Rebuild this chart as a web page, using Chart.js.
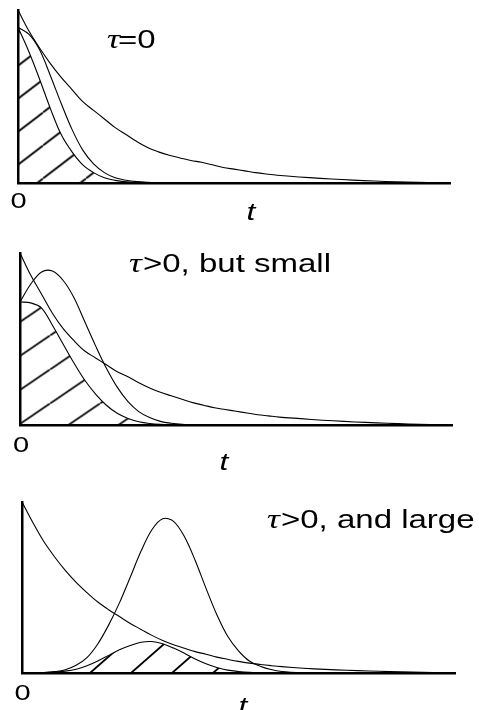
<!DOCTYPE html>
<html>
<head>
<meta charset="utf-8">
<script src="https://cdn.jsdelivr.net/npm/chart.js@4.4.1/dist/chart.umd.min.js"></script>
<style>
    html, body { margin: 0; padding: 0; background: #fff; }
    body { width: 479px; height: 710px; position: relative; overflow: hidden; }
    .panel { position: absolute; left: 0; width: 479px; }
</style>
</head>
<body>
<div class="panel" style="top:0;height:235px"><canvas id="chartZero"></canvas></div>
<div class="panel" style="top:235px;height:240px"><canvas id="chartSmall"></canvas></div>
<div class="panel" style="top:475px;height:235px"><canvas id="chartLarge"></canvas></div>
<script>
// time axis, shared by all three panels
const tValues = [0, 0.25, 0.5, 0.75, 1, 1.25, 1.5, 1.75, 2, 2.25, 2.5, 2.75, 3, 3.25, 3.5, 3.75, 4,
    4.25, 4.5, 4.75, 5, 5.25, 5.5, 5.75, 6, 6.5, 7, 7.5, 8, 8.5, 9, 9.5, 10];

// tau = 0
const decayZero = [1.00, 0.88, 0.78, 0.69, 0.61, 0.54, 0.47, 0.42, 0.37, 0.32, 0.28, 0.24, 0.205, 0.18, 0.16, 0.145, 0.13,
    0.12, 0.105, 0.09, 0.08, 0.07, 0.06, 0.052, 0.045, 0.035, 0.027, 0.02, 0.014, 0.009, 0.006, 0.003, 0.001];
const gaussZero = [0.90, 0.86, 0.77, 0.62, 0.46, 0.31, 0.19, 0.11, 0.06, 0.03, 0.016, 0.008, 0.004, 0.002, 0.001, 0, 0,
    0, 0, 0, 0, 0, 0, 0, 0, 0, 0, 0, 0, 0, 0, 0, 0];
const overlapZero = [0.90, 0.76, 0.60, 0.43, 0.28, 0.18, 0.105, 0.06, 0.03, 0.015, 0.007, 0.003, 0.001, 0, 0, 0, 0,
    0, 0, 0, 0, 0, 0, 0, 0, 0, 0, 0, 0, 0, 0, 0, 0];

// tau > 0, but small
const decaySmall = [1.00, 0.87, 0.76, 0.65, 0.56, 0.49, 0.43, 0.39, 0.35, 0.31, 0.28, 0.245, 0.215, 0.19, 0.17, 0.15, 0.13,
    0.115, 0.10, 0.09, 0.08, 0.07, 0.06, 0.053, 0.046, 0.037, 0.028, 0.021, 0.015, 0.01, 0.006, 0.003, 0.001];
const gaussSmall = [0.715, 0.82, 0.89, 0.895, 0.84, 0.74, 0.60, 0.46, 0.33, 0.22, 0.136, 0.078, 0.043, 0.021, 0.01, 0.004, 0.002,
    0, 0, 0, 0, 0, 0, 0, 0, 0, 0, 0, 0, 0, 0, 0, 0];
const overlapSmall = [0.715, 0.71, 0.68, 0.58, 0.47, 0.36, 0.26, 0.18, 0.115, 0.068, 0.038, 0.019, 0.009, 0.004, 0.002, 0.001, 0,
    0, 0, 0, 0, 0, 0, 0, 0, 0, 0, 0, 0, 0, 0, 0, 0];

// tau > 0, and large
const decayLarge = [1.00, 0.88, 0.77, 0.68, 0.60, 0.53, 0.47, 0.415, 0.37, 0.33, 0.29, 0.255, 0.22, 0.19, 0.165, 0.145, 0.125,
    0.11, 0.093, 0.08, 0.068, 0.058, 0.05, 0.043, 0.037, 0.028, 0.021, 0.016, 0.012, 0.008, 0.005, 0.003, 0.001];
const gaussLarge = [0, 0.001, 0.003, 0.008, 0.019, 0.045, 0.09, 0.17, 0.28, 0.41, 0.56, 0.713, 0.838, 0.902, 0.887, 0.798, 0.658,
    0.495, 0.341, 0.215, 0.13, 0.07, 0.04, 0.02, 0.009, 0.002, 0, 0, 0, 0, 0, 0, 0];
const overlapLarge = [0, 0.001, 0.002, 0.005, 0.011, 0.022, 0.042, 0.07, 0.103, 0.136, 0.161, 0.18, 0.184, 0.171, 0.146, 0.116, 0.082,
    0.054, 0.032, 0.017, 0.009, 0.004, 0.002, 0.001, 0, 0, 0, 0, 0, 0, 0, 0, 0];

const TEXT_STRETCH = 1.32; // the original figure is stretched sideways
const AXIS_FONT = '22px "Liberation Sans", Arial, sans-serif';
const T_FONT = 'italic 24px "Liberation Sans", Arial, sans-serif';
const TITLE_FONT = '25px "Liberation Sans", Arial, sans-serif';
const TAU_FONT = 'italic 27px "Liberation Serif", serif';

const panels = [
    {
        canvas: 'chartZero', top: 0, height: 235,
        area: { left: 18, top: 10, right: 450, bottom: 183 },
        series: [decayZero, gaussZero, overlapZero],
        hatch: { w: 43, h: 33, offset: 13.5 },
        labels: [
            { text: '0', x: 18.5, y: 208, font: AXIS_FONT, align: 'center' },
            { text: 't', x: 251, y: 220, font: T_FONT, align: 'center' },
            { text: 'τ', x: 107, y: 48, font: TAU_FONT },
            { text: '=0', x: 118, y: 48, font: TITLE_FONT },
        ],
    },
    {
        canvas: 'chartSmall', top: 235, height: 240,
        area: { left: 20, top: 253, right: 452, bottom: 425 },
        series: [decaySmall, gaussSmall, overlapSmall],
        hatch: { w: 50, h: 34, offset: 32.5 },
        labels: [
            { text: '0', x: 21, y: 452, font: AXIS_FONT, align: 'center' },
            { text: 't', x: 224, y: 470, font: T_FONT, align: 'center' },
            { text: 'τ', x: 129, y: 272, font: TAU_FONT },
            { text: '>0, but small', x: 143, y: 272, font: TITLE_FONT },
        ],
    },
    {
        canvas: 'chartLarge', top: 475, height: 235,
        area: { left: 22, top: 502, right: 455, bottom: 673 },
        series: [decayLarge, gaussLarge, overlapLarge],
        hatch: { w: 41, h: 36, offset: 25 },
        labels: [
            { text: '0', x: 22.5, y: 700, font: AXIS_FONT, align: 'center' },
            { text: 't', x: 243, y: 714, font: T_FONT, align: 'center' },
            { text: 'τ', x: 267, y: 528, font: TAU_FONT },
            { text: '>0, and large', x: 281, y: 528, font: TITLE_FONT },
        ],
    },
];

function makeHatch({ w, h, offset }) {
    const tile = document.createElement('canvas');
    tile.width = w;
    tile.height = h;
    const c = tile.getContext('2d');
    c.strokeStyle = '#000';
    c.lineWidth = 1.8;
    [-1, 0, 1].forEach((shift) => {
        c.beginPath();
        c.moveTo(shift * w, h);
        c.lineTo((shift + 1) * w, 0);
        c.stroke();
    });
    const pattern = c.createPattern(tile, 'repeat');
    pattern.setTransform(new DOMMatrix().translate(0, offset));
    return pattern;
}

function textPlugin(panel) {
    return {
        id: 'panelText',
        afterDraw(chart) {
            const ctx = chart.ctx;
            panel.labels.forEach((label) => {
                ctx.save();
                ctx.font = label.font;
                ctx.fillStyle = '#000';
                ctx.textAlign = label.align || 'left';
                ctx.textBaseline = 'alphabetic';
                ctx.translate(label.x, label.y - panel.top);
                ctx.scale(TEXT_STRETCH, 1);
                ctx.fillText(label.text, 0, 0);
                ctx.restore();
            });
        },
    };
}

function curve(values, extra = {}) {
    return {
        data: tValues.map((t, i) => ({ x: t, y: values[i] })),
        borderColor: '#000',
        borderWidth: 1.1,
        pointRadius: 0,
        fill: false,
        tension: 0.35,
        ...extra,
    };
}

function axis(extra) {
    return {
        grid: { display: false, drawTicks: false },
        ticks: { display: false },
        border: { display: true, color: '#000', width: 2.5 },
        ...extra,
    };
}

function buildPanel(panel) {
    const [decay, gauss, overlap] = panel.series;
    new Chart(document.getElementById(panel.canvas), {
        type: 'line',
        data: {
            datasets: [
                curve(decay),
                curve(gauss),
                curve(overlap, { fill: 'origin', backgroundColor: makeHatch(panel.hatch) }),
            ],
        },
        options: {
            responsive: true,
            maintainAspectRatio: false,
            animation: false,
            layout: {
                padding: {
                    left: panel.area.left,
                    top: panel.area.top - panel.top,
                    right: 479 - panel.area.right,
                    bottom: panel.top + panel.height - panel.area.bottom,
                },
            },
            plugins: { legend: { display: false }, tooltip: { enabled: false } },
            scales: {
                x: axis({ type: 'linear', min: 0, max: 10, afterFit: (scale) => { scale.height = 0; } }),
                y: axis({ min: 0, max: 1, afterFit: (scale) => { scale.width = 0; } }),
            },
        },
        plugins: [textPlugin(panel)],
    });
}

panels.forEach(buildPanel);
</script>
</body>
</html>
